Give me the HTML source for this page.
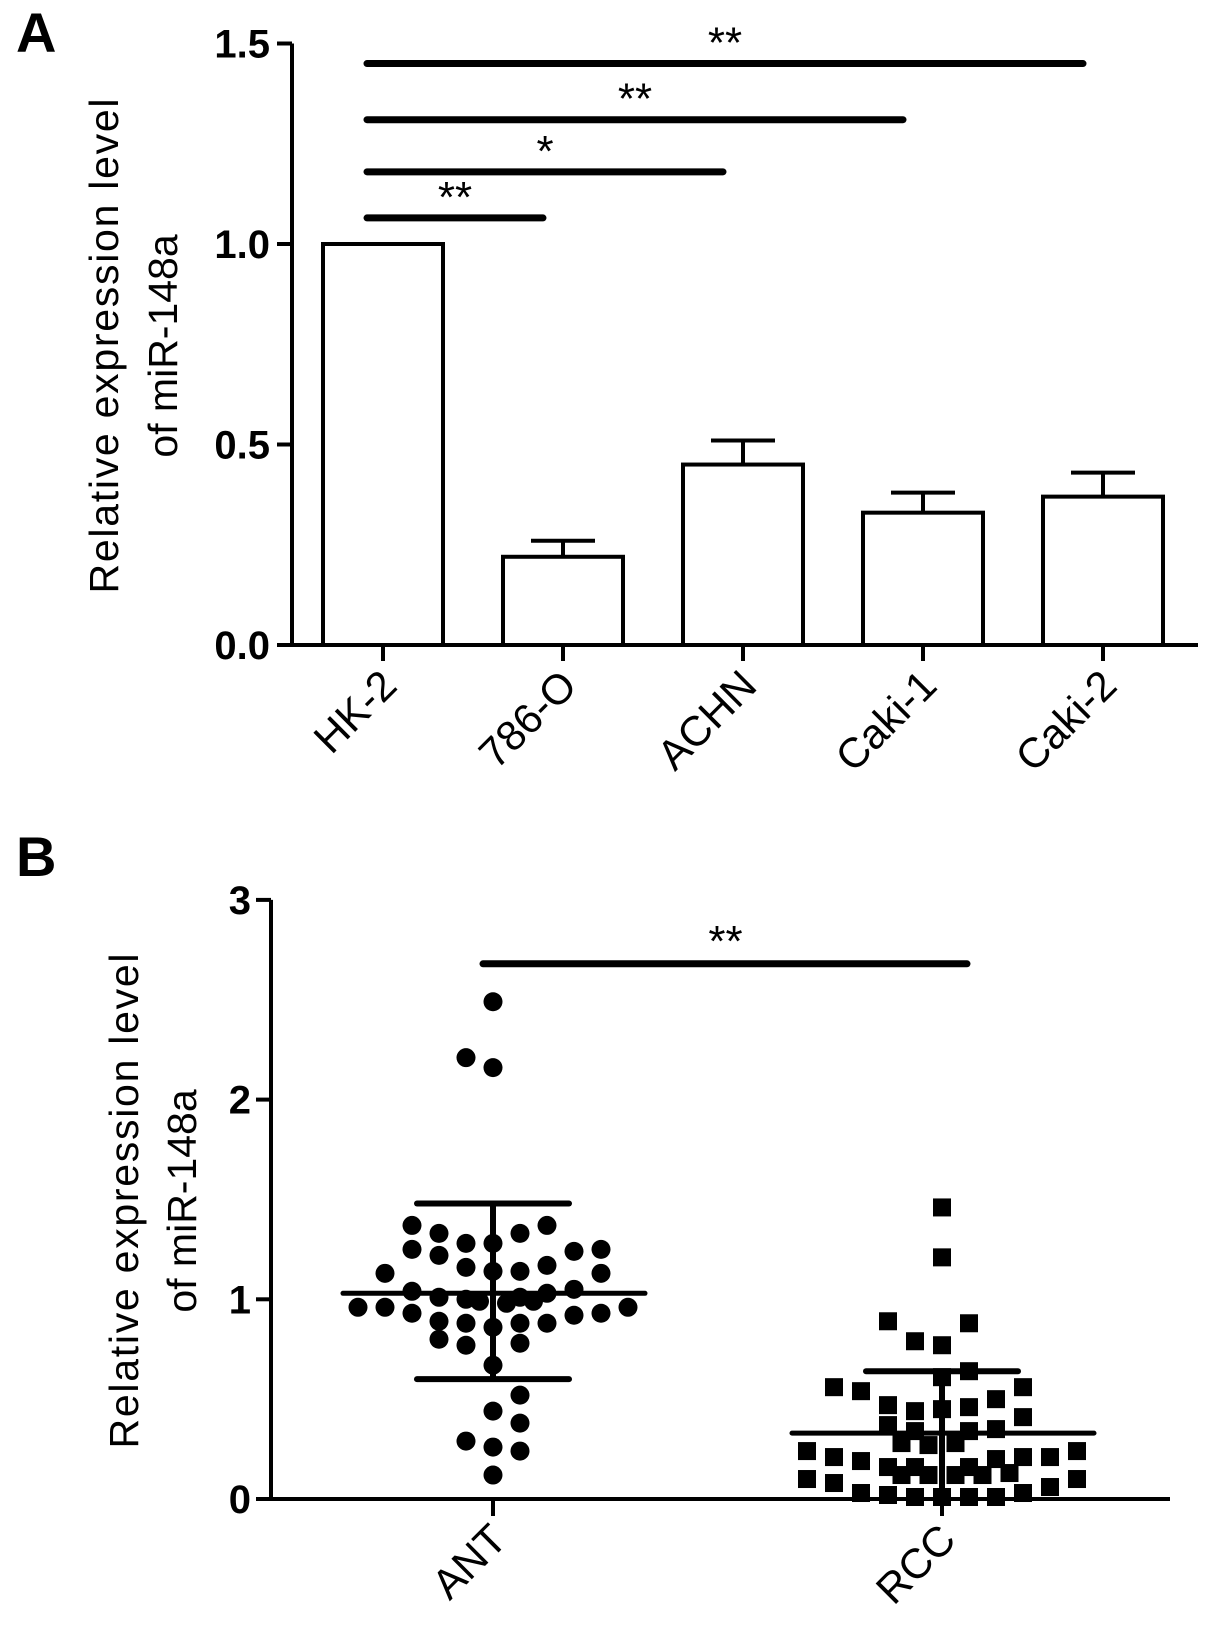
<!DOCTYPE html>
<html><head><meta charset="utf-8"><style>
html,body{margin:0;padding:0;background:#fff;}
svg{display:block;font-family:"Liberation Sans",Arial,sans-serif;}
</style></head><body>
<svg id="fig" width="1205" height="1639" viewBox="0 0 1205 1639">
<text x="16" y="52" font-size="56" font-weight="bold">A</text>
<text x="16" y="876" font-size="56" font-weight="bold">B</text>
<g id="pa"></g>
<g id="pb"></g>
</svg>
<script>
// Panel A data
const aCategories = ["HK-2","786-O","ACHN","Caki-1","Caki-2"];
const aValues = [1.0, 0.22, 0.45, 0.33, 0.37];
const aErrors = [0, 0.04, 0.06, 0.05, 0.06];
const aTicks = [0, 0.5, 1.0, 1.5];
const aTickLabels = ["0.0","0.5","1.0","1.5"];
const aSigFrom = [0,0,0,0];
const aSigTo = [1,2,3,4];
const aSigLevel = [1.065, 1.18, 1.31, 1.45];
const aSigText = ["**","*","**","**"];
// Panel B data
const bCategories = ["ANT","RCC"];
const bTicks = [0,1,2,3];
const bTickLabels = ["0","1","2","3"];
const antValues = [2.49,2.21,2.16,1.37,1.33,1.28,1.28,1.33,1.37,1.25,1.22,1.24,1.25,1.13,1.16,1.14,1.14,1.17,1.13,1.04,1.01,1.00,0.99,0.98,1.01,0.99,1.03,1.05,0.96,0.96,0.93,0.96,0.92,0.93,0.89,0.88,0.86,0.88,0.88,0.80,0.77,0.78,0.67,0.52,0.44,0.38,0.29,0.26,0.24,0.12];
const antSlots = [0,-1,0,-3,-2,-1,0,1,2,-3,-2,3,4,-4,-1,0,1,2,4,-3,-2,-1,-0.5,0.5,1,1.5,2,3,-5,-4,-3,5,3,4,-2,-1,0,1,2,-2,-1,1,0,1,0,1,-1,0,1,0];
const rccValues = [1.46,1.21,0.89,0.88,0.79,0.77,0.61,0.64,0.56,0.54,0.56,0.47,0.44,0.45,0.46,0.50,0.41,0.37,0.34,0.34,0.35,0.28,0.27,0.28,0.24,0.21,0.19,0.16,0.16,0.16,0.20,0.21,0.21,0.24,0.12,0.12,0.12,0.12,0.13,0.10,0.08,0.06,0.10,0.03,0.02,0.01,0.01,0.01,0.01,0.03];
const rccSlots = [0,0,-2,1,-1,0,0,1,-4,-3,3,-2,-1,0,1,2,3,-2,-1,1,2,-1.5,-0.5,0.5,-5,-4,-3,-2,-1,1,2,3,4,5,-1.5,-0.5,0.5,1.5,2.5,-5,-4,4,5,-3,-2,-1,0,1,2,3];
const antStats = [1.03, 0.60, 1.48];
const rccStats = [0.33, 0.00, 0.64];
const bSigLevel = 2.68;

const NS="http://www.w3.org/2000/svg";
function mk(parent,tag,attrs,txt){const e=document.createElementNS(NS,tag);for(const k in attrs)e.setAttribute(k,attrs[k]);if(txt!==undefined)e.textContent=txt;parent.appendChild(e);return e;}
const K="#000";

// ---------- Panel A ----------
const pa=document.getElementById('pa');
const aY=v=>645-v*401;
const aX=i=>383+i*180;
const bw=120;
let e;
e=mk(pa,'line',{x1:292,y1:aY(1.5),x2:292,y2:647,stroke:K,'stroke-width':4});

e=mk(pa,'line',{x1:290,y1:645,x2:1198,y2:645,stroke:K,'stroke-width':4});

aTicks.forEach((t,i)=>{
  e=mk(pa,'line',{x1:277,y1:aY(t),x2:292,y2:aY(t),stroke:K,'stroke-width':4});
  
  e=mk(pa,'text',{x:270,y:aY(t)+14,'font-size':40,'font-weight':'bold','text-anchor':'end'},aTickLabels[i]);
  
});
e=mk(pa,'text',{x:0,y:0,'font-size':41,'text-anchor':'middle',transform:'translate(118,346) rotate(-90)',textLength:495},'Relative expression level');

e=mk(pa,'text',{x:0,y:0,'font-size':41,'text-anchor':'middle',transform:'translate(177,346) rotate(-90)'},'of miR-148a');

aCategories.forEach((c,i)=>{
  const cx=aX(i);
  e=mk(pa,'rect',{x:cx-bw/2,y:aY(aValues[i]),width:bw,height:645-aY(aValues[i]),fill:'#fff',stroke:K,'stroke-width':4});
  
  if(aErrors[i]>0){
    e=mk(pa,'path',{d:`M${cx},${aY(aValues[i])} V${aY(aValues[i]+aErrors[i])} M${cx-32},${aY(aValues[i]+aErrors[i])} H${cx+32}`,stroke:K,'stroke-width':4,fill:'none'});
    
  }
  e=mk(pa,'line',{x1:cx,y1:645,x2:cx,y2:661,stroke:K,'stroke-width':4});
  
  e=mk(pa,'text',{x:0,y:0,'font-size':42,'text-anchor':'end',transform:`translate(${cx+16},${688}) rotate(-45)`},c);
  
});
aSigLevel.forEach((lv,i)=>{
  const x1=aX(aSigFrom[i])-16, x2=aX(aSigTo[i])-20, y=aY(lv);
  e=mk(pa,'line',{x1:x1,y1:y,x2:x2,y2:y,stroke:K,'stroke-width':7,'stroke-linecap':'round'});
  
  e=mk(pa,'text',{x:(x1+x2)/2,y:y-6,'font-size':44,'text-anchor':'middle'},aSigText[i]);
  
});

// ---------- Panel B ----------
const pb=document.getElementById('pb');
const bY=v=>1499-v*199.7;
const bX=i=>493+i*449;
const slotW=27;
e=mk(pb,'line',{x1:271,y1:bY(3),x2:271,y2:1501,stroke:K,'stroke-width':4});

e=mk(pb,'line',{x1:269,y1:1499,x2:1170,y2:1499,stroke:K,'stroke-width':4});

bTicks.forEach((t,i)=>{
  e=mk(pb,'line',{x1:256,y1:bY(t),x2:271,y2:bY(t),stroke:K,'stroke-width':4});
  
  e=mk(pb,'text',{x:251,y:bY(t)+14,'font-size':40,'font-weight':'bold','text-anchor':'end'},bTickLabels[i]);
  
});
e=mk(pb,'text',{x:0,y:0,'font-size':41,'text-anchor':'middle',transform:'translate(138,1201) rotate(-90)',textLength:495},'Relative expression level');

e=mk(pb,'text',{x:0,y:0,'font-size':41,'text-anchor':'middle',transform:'translate(196,1201) rotate(-90)'},'of miR-148a');

bCategories.forEach((c,i)=>{
  const cx=bX(i);
  e=mk(pb,'line',{x1:cx,y1:1499,x2:cx,y2:1516,stroke:K,'stroke-width':4});
  
  e=mk(pb,'text',{x:0,y:0,'font-size':42,'text-anchor':'end',transform:`translate(${cx+16},${1542}) rotate(-45)`},c);
  
});
antValues.forEach((v,i)=>{
  e=mk(pb,'circle',{cx:bX(0)+antSlots[i]*slotW,cy:bY(v),r:9.5,fill:K});
  
});
rccValues.forEach((v,i)=>{
  e=mk(pb,'rect',{x:bX(1)+rccSlots[i]*slotW-9,y:bY(v)-9,width:18,height:18,fill:K});
  
});
[antStats,rccStats].forEach((s,i)=>{
  const cx=bX(i);
  e=mk(pb,'line',{x1:cx,y1:bY(s[1]),x2:cx,y2:bY(s[2]),stroke:K,'stroke-width':6});
  
  e=mk(pb,'line',{x1:cx-150,y1:bY(s[0]),x2:cx+152,y2:bY(s[0]),stroke:K,'stroke-width':5,'stroke-linecap':'round'});
  
  e=mk(pb,'line',{x1:cx-76,y1:bY(s[2]),x2:cx+76,y2:bY(s[2]),stroke:K,'stroke-width':6,'stroke-linecap':'round'});
  
  if(s[1]>0){
    e=mk(pb,'line',{x1:cx-76,y1:bY(s[1]),x2:cx+76,y2:bY(s[1]),stroke:K,'stroke-width':6,'stroke-linecap':'round'});
    
  }
});
e=mk(pb,'line',{x1:bX(0)-10,y1:bY(bSigLevel),x2:bX(1)+25,y2:bY(bSigLevel),stroke:K,'stroke-width':7,'stroke-linecap':'round'});

e=mk(pb,'text',{x:(bX(0)+bX(1))/2+8,y:bY(bSigLevel)-8,'font-size':44,'text-anchor':'middle'},'**');

</script>
</body></html>
